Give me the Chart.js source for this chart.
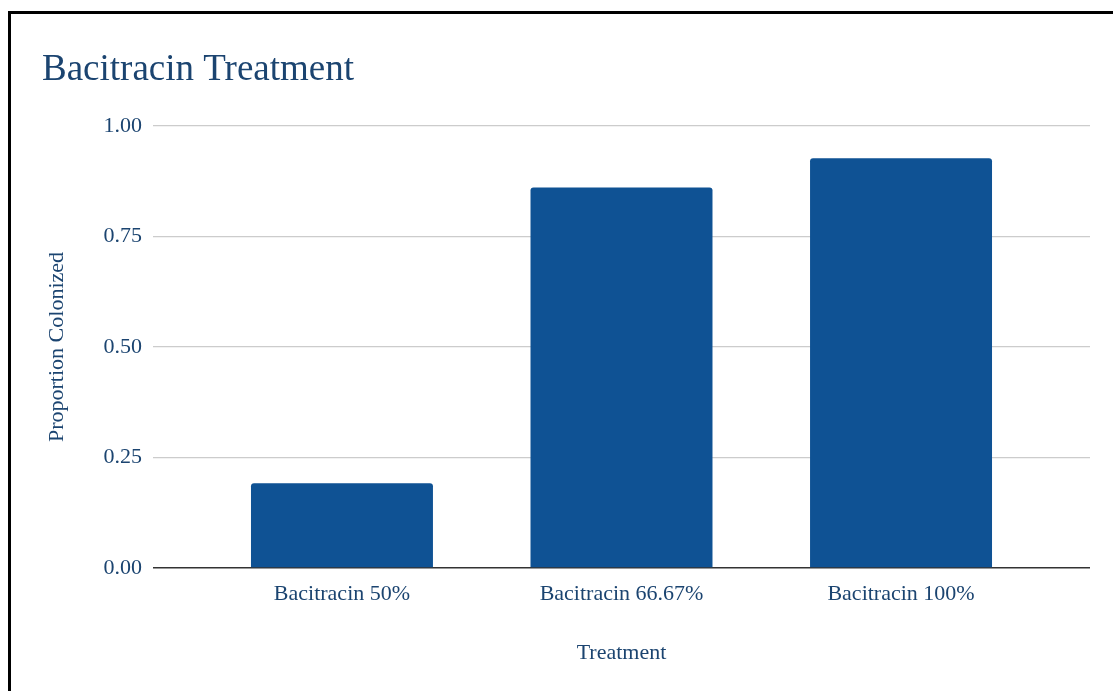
<!DOCTYPE html>
<html>
<head>
<meta charset="utf-8">
<script src="https://cdn.jsdelivr.net/npm/chart.js@4/dist/chart.umd.min.js"></script>
<style>
    html, body { margin: 0; padding: 0; background: #fff; overflow: hidden; }
    #wrap { position: relative; width: 1113px; height: 691px; }
    #frame {
        position: absolute; left: 8px; top: 11px; width: 2000px; height: 2000px;
        border-left: 3px solid #000; border-top: 3px solid #000;
        pointer-events: none;
    }
    canvas { position: absolute; left: 0; top: 0; }
</style>
</head>
<body>
<div id="wrap">
    <canvas id="chart" width="1113" height="691"></canvas>
    <div id="frame"></div>
</div>
<script>
// 数据
const categories = ['Bacitracin 50%', 'Bacitracin 66.67%', 'Bacitracin 100%'];
const proportions = [0.192, 0.861, 0.927];
const yTicks = [0, 0.25, 0.5, 0.75, 1];

const textColor = '#1b4470';
const barColor = '#0f5294';
const serif = '"Liberation Serif", "Times New Roman", serif';

// 线性x轴，用序号定位柱子
const points = proportions.map((v, i) => ({ x: i, y: v }));

const ctx = document.getElementById('chart').getContext('2d');
new Chart(ctx, {
    type: 'bar',
    data: {
        datasets: [{
            label: 'Proportion Colonized',
            data: points,
            backgroundColor: barColor,
            borderRadius: 3,
            categoryPercentage: 1,
            barPercentage: 0.651
        }]
    },
    options: {
        responsive: false,
        animation: false,
        layout: { padding: { left: 42, right: 23, top: 48, bottom: 0 } },
        plugins: {
            legend: { display: false },
            tooltip: { enabled: false },
            title: {
                display: true,
                text: 'Bacitracin Treatment',
                align: 'start',
                color: textColor,
                font: { family: serif, size: 37, weight: 'normal' },
                padding: { top: 0, bottom: 33.6 }
            }
        },
        scales: {
            x: {
                type: 'linear',
                offset: false,
                min: -0.676,
                max: 2.676,
                afterBuildTicks: scale => {
                    scale.ticks = categories.map((c, i) => ({ value: i }));
                },
                afterFit: scale => { scale.height = 123; },
                grid: { display: false, drawTicks: false },
                border: { display: false },
                ticks: {
                    padding: 13,
                    color: textColor,
                    font: { family: serif, size: 22 },
                    maxRotation: 0,
                    callback: value => categories[value]
                },
                title: {
                    display: true,
                    text: 'Treatment',
                    color: textColor,
                    font: { family: serif, size: 22 },
                    padding: { top: 0, bottom: 25 }
                }
            },
            y: {
                min: 0,
                max: 1,
                afterBuildTicks: scale => {
                    scale.ticks = yTicks.map(v => ({ value: v }));
                },
                afterFit: scale => { scale.width = 111; },
                border: { display: false },
                grid: {
                    drawTicks: false,
                    lineWidth: ctx => ctx.tick && ctx.tick.value === 0 ? 1.5 : 1.2,
                    color: ctx => ctx.tick && ctx.tick.value === 0 ? '#333333' : '#cccccc'
                },
                ticks: {
                    padding: 11,
                    color: textColor,
                    font: { family: serif, size: 22 },
                    callback: value => value.toFixed(2)
                },
                title: {
                    display: true,
                    text: 'Proportion Colonized',
                    color: textColor,
                    font: { family: serif, size: 22 },
                    padding: { top: 2, bottom: 0 }
                }
            }
        }
    }
});
</script>
</body>
</html>
